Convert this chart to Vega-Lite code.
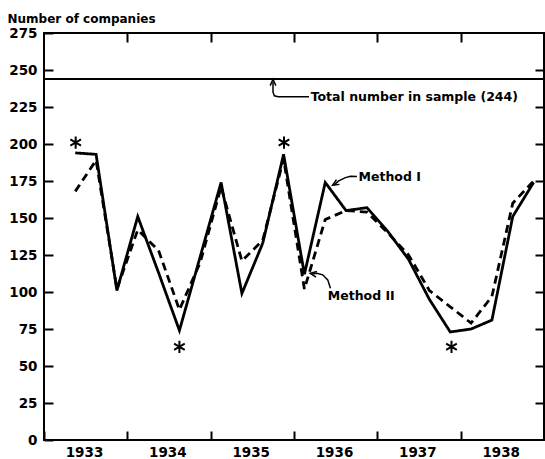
{
  "$schema": "https://vega.github.io/schema/vega-lite/v6.json",
  "autosize": "none",
  "width": 500,
  "height": 407,
  "padding": {"left": 44, "top": 33, "right": 1, "bottom": 19},
  "background": "white",
  "config": {
    "view": {"stroke": "black", "strokeWidth": 2},
    "font": "DejaVu Sans",
    "axis": {"grid": false, "domain": false, "ticks": true, "zindex": 1, "tickColor": "black", "tickWidth": 2, "tickOpacity": 1, "labelColor": "black", "labelFont": "DejaVu Sans", "labelFontWeight": "bold", "labelFontSize": 13.5}
  },
  "datasets": {
    "series": [
      {"quarter": 1933.375, "method": "Method I", "companies": 194},
      {"quarter": 1933.625, "method": "Method I", "companies": 193},
      {"quarter": 1933.875, "method": "Method I", "companies": 101},
      {"quarter": 1934.125, "method": "Method I", "companies": 151},
      {"quarter": 1934.375, "method": "Method I", "companies": 113},
      {"quarter": 1934.625, "method": "Method I", "companies": 74},
      {"quarter": 1934.875, "method": "Method I", "companies": 124},
      {"quarter": 1935.125, "method": "Method I", "companies": 174},
      {"quarter": 1935.375, "method": "Method I", "companies": 99},
      {"quarter": 1935.625, "method": "Method I", "companies": 133},
      {"quarter": 1935.875, "method": "Method I", "companies": 193},
      {"quarter": 1936.125, "method": "Method I", "companies": 112},
      {"quarter": 1936.375, "method": "Method I", "companies": 174},
      {"quarter": 1936.625, "method": "Method I", "companies": 155},
      {"quarter": 1936.875, "method": "Method I", "companies": 157},
      {"quarter": 1937.125, "method": "Method I", "companies": 141},
      {"quarter": 1937.375, "method": "Method I", "companies": 122},
      {"quarter": 1937.625, "method": "Method I", "companies": 95},
      {"quarter": 1937.875, "method": "Method I", "companies": 73},
      {"quarter": 1938.125, "method": "Method I", "companies": 75},
      {"quarter": 1938.375, "method": "Method I", "companies": 81},
      {"quarter": 1938.625, "method": "Method I", "companies": 151},
      {"quarter": 1938.875, "method": "Method I", "companies": 174},
      {"quarter": 1933.375, "method": "Method II", "companies": 168},
      {"quarter": 1933.625, "method": "Method II", "companies": 189},
      {"quarter": 1933.875, "method": "Method II", "companies": 102},
      {"quarter": 1934.125, "method": "Method II", "companies": 142},
      {"quarter": 1934.375, "method": "Method II", "companies": 128},
      {"quarter": 1934.625, "method": "Method II", "companies": 88},
      {"quarter": 1934.875, "method": "Method II", "companies": 120},
      {"quarter": 1935.125, "method": "Method II", "companies": 171},
      {"quarter": 1935.375, "method": "Method II", "companies": 121},
      {"quarter": 1935.625, "method": "Method II", "companies": 135},
      {"quarter": 1935.875, "method": "Method II", "companies": 190},
      {"quarter": 1936.125, "method": "Method II", "companies": 102},
      {"quarter": 1936.375, "method": "Method II", "companies": 149},
      {"quarter": 1936.625, "method": "Method II", "companies": 155},
      {"quarter": 1936.875, "method": "Method II", "companies": 154},
      {"quarter": 1937.125, "method": "Method II", "companies": 140},
      {"quarter": 1937.375, "method": "Method II", "companies": 125},
      {"quarter": 1937.625, "method": "Method II", "companies": 101},
      {"quarter": 1937.875, "method": "Method II", "companies": 90},
      {"quarter": 1938.125, "method": "Method II", "companies": 79},
      {"quarter": 1938.375, "method": "Method II", "companies": 97},
      {"quarter": 1938.625, "method": "Method II", "companies": 160},
      {"quarter": 1938.875, "method": "Method II", "companies": 175}
    ],
    "stars": [
      {"quarter": 1933.38, "companies": 201},
      {"quarter": 1934.625, "companies": 63},
      {"quarter": 1935.88, "companies": 201},
      {"quarter": 1937.89, "companies": 63}
    ],
    "labels": [
      {"text": "Total number in sample (244)", "quarter": 1936.2, "companies": 231.9},
      {"text": "Method I", "quarter": 1936.775, "companies": 178.0},
      {"text": "Method II", "quarter": 1936.405, "companies": 97.4}
    ],
    "arrows": [
      {"arrow": "total", "step": 1, "quarter": 1935.748, "companies": 242.0},
      {"arrow": "total", "step": 2, "quarter": 1935.748, "companies": 235.0},
      {"arrow": "total", "step": 3, "quarter": 1935.765, "companies": 232.6},
      {"arrow": "total", "step": 4, "quarter": 1935.81, "companies": 231.9},
      {"arrow": "total", "step": 5, "quarter": 1936.18, "companies": 231.9},
      {"arrow": "m1", "step": 1, "quarter": 1936.755, "companies": 178.0},
      {"arrow": "m1", "step": 2, "quarter": 1936.68, "companies": 178.2},
      {"arrow": "m1", "step": 3, "quarter": 1936.617, "companies": 177.3},
      {"arrow": "m1", "step": 4, "quarter": 1936.537, "companies": 175.1},
      {"arrow": "m1", "step": 5, "quarter": 1936.48, "companies": 172.4},
      {"arrow": "m2", "step": 1, "quarter": 1936.437, "companies": 102.6},
      {"arrow": "m2", "step": 2, "quarter": 1936.405, "companies": 108.2},
      {"arrow": "m2", "step": 3, "quarter": 1936.345, "companies": 111.6},
      {"arrow": "m2", "step": 4, "quarter": 1936.274, "companies": 112.6},
      {"arrow": "m2", "step": 5, "quarter": 1936.22, "companies": 112.2}
    ],
    "heads": [
      {"arrow": "total", "quarter": 1935.748, "companies": 241.6},
      {"arrow": "m1", "quarter": 1936.495, "companies": 173.2},
      {"arrow": "m2", "quarter": 1936.232, "companies": 112.3}
    ],
    "total": [{"companies": 244}]
  },
  "layer": [
    {
      "data": {"name": "series"},
      "mark": {"type": "line", "strokeWidth": 2.8, "color": "black"},
      "encoding": {
        "x": {"field": "quarter", "type": "quantitative", "scale": {"domain": [1933, 1939], "nice": false, "zero": false},
          "axis": {"orient": "bottom", "values": [1933, 1934, 1935, 1936, 1937, 1938], "tickSize": -9, "labelOffset": 40, "labelPadding": 14, "labelExpr": "format(datum.value, 'd')", "title": null, "labelFlush": false, "labelOverlap": false}},
        "y": {"field": "companies", "type": "quantitative", "scale": {"domain": [0, 275], "nice": false, "zero": true},
          "axis": {"orient": "left", "values": [0, 25, 50, 75, 100, 125, 150, 175, 200, 225, 250, 275], "tickSize": -9, "labelPadding": 16, "labelFlush": false, "labelOverlap": false,
            "title": "Number of companies", "titleAngle": 0, "titleAlign": "left", "titleBaseline": "alphabetic", "titleX": -37, "titleY": -11, "titleFont": "DejaVu Sans", "titleFontSize": 12, "titleFontWeight": "bold", "titleColor": "black"}},
        "strokeDash": {"field": "method", "type": "nominal", "scale": {"domain": ["Method I", "Method II"], "range": [[1, 0], [8, 5]]}, "legend": null}
      }
    },
    {
      "data": {"name": "total"},
      "mark": {"type": "rule", "color": "black", "strokeWidth": 2},
      "encoding": {
        "y": {"field": "companies", "type": "quantitative",
          "axis": {"orient": "right", "values": [25, 50, 75, 100, 125, 150, 175, 200, 225, 250], "tickSize": -9, "labels": false, "title": null}}
      }
    },
    {
      "data": {"name": "stars"},
      "mark": {"type": "point", "shape": "M0,-1L0,1M-0.87,-0.5L0.87,0.5M-0.87,0.5L0.87,-0.5", "filled": false, "stroke": "black", "strokeWidth": 2, "size": 150, "opacity": 1},
      "encoding": {
        "x": {"field": "quarter", "type": "quantitative",
          "axis": {"orient": "top", "values": [1934, 1935, 1936, 1937, 1938], "tickSize": -9, "labels": false, "title": null}},
        "y": {"field": "companies", "type": "quantitative", "axis": null}
      }
    },
    {
      "data": {"name": "arrows"},
      "mark": {"type": "line", "color": "black", "strokeWidth": 1.5},
      "encoding": {
        "x": {"field": "quarter", "type": "quantitative", "axis": null},
        "y": {"field": "companies", "type": "quantitative", "axis": null},
        "detail": {"field": "arrow"},
        "order": {"field": "step", "type": "quantitative"}
      }
    },
    {
      "data": {"name": "heads"},
      "transform": [{"filter": "datum.arrow == 'total'"}],
      "mark": {"type": "point", "shape": "M-0.8,0.9L0,-0.9L0.8,0.9", "filled": false, "stroke": "black", "strokeWidth": 1.5, "size": 50, "opacity": 1, "angle": 0},
      "encoding": {
        "x": {"field": "quarter", "type": "quantitative", "axis": null},
        "y": {"field": "companies", "type": "quantitative", "axis": null}
      }
    },
    {
      "data": {"name": "heads"},
      "transform": [{"filter": "datum.arrow == 'm1'"}],
      "mark": {"type": "point", "shape": "M-0.8,0.9L0,-0.9L0.8,0.9", "filled": false, "stroke": "black", "strokeWidth": 1.5, "size": 50, "opacity": 1, "angle": 238},
      "encoding": {
        "x": {"field": "quarter", "type": "quantitative", "axis": null},
        "y": {"field": "companies", "type": "quantitative", "axis": null}
      }
    },
    {
      "data": {"name": "heads"},
      "transform": [{"filter": "datum.arrow == 'm2'"}],
      "mark": {"type": "point", "shape": "M-0.8,0.9L0,-0.9L0.8,0.9", "filled": false, "stroke": "black", "strokeWidth": 1.5, "size": 50, "opacity": 1, "angle": 280},
      "encoding": {
        "x": {"field": "quarter", "type": "quantitative", "axis": null},
        "y": {"field": "companies", "type": "quantitative", "axis": null}
      }
    },
    {
      "data": {"name": "labels"},
      "mark": {"type": "text", "align": "left", "baseline": "middle", "font": "DejaVu Sans", "fontSize": 12.5, "fontWeight": "bold", "color": "black"},
      "encoding": {
        "x": {"field": "quarter", "type": "quantitative", "axis": null},
        "y": {"field": "companies", "type": "quantitative", "axis": null},
        "text": {"field": "text"}
      }
    }
  ],
  "resolve": {"axis": {"x": "independent", "y": "independent"}}
}
